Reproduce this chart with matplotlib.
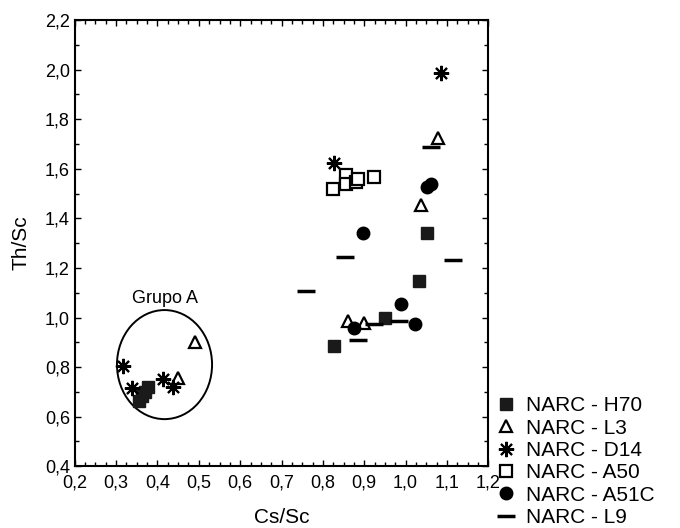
import matplotlib
matplotlib.use("Agg")
import matplotlib.pyplot as plt
from matplotlib.patches import Ellipse
from matplotlib.ticker import MultipleLocator, FuncFormatter

plt.rcParams['font.family'] = ['Liberation Sans', 'DejaVu Sans']

# dados (Cs/Sc, Th/Sc)
h70_x = [0.355, 0.362, 0.370, 0.378, 0.826, 0.950, 1.033, 1.052]
h70_y = [0.665, 0.683, 0.700, 0.718, 0.885, 1.000, 1.147, 1.340]

l3_x = [0.490, 0.450, 0.860, 0.899, 1.037, 1.079]
l3_y = [0.900, 0.755, 0.985, 0.977, 1.453, 1.724]

d14_x = [0.317, 0.338, 0.414, 0.438, 0.826, 1.086]
d14_y = [0.805, 0.715, 0.750, 0.720, 1.623, 1.986]

a50_x = [0.824, 0.855, 0.855, 0.880, 0.884, 0.923]
a50_y = [1.518, 1.575, 1.538, 1.546, 1.558, 1.566]

a51c_x = [0.875, 0.897, 0.989, 1.023, 1.052, 1.062]
a51c_y = [0.957, 1.340, 1.054, 0.973, 1.527, 1.540]

l9_x = [0.760, 0.853, 0.884, 0.923, 0.984, 1.062, 1.115]
l9_y = [1.106, 1.244, 0.909, 0.973, 0.985, 1.688, 1.232]

fig = plt.figure(figsize=(6.8, 5.28), dpi=100)
ax = fig.add_axes([0.110, 0.117, 0.608, 0.845])

ax.plot(h70_x, h70_y, 's', color='#1a1a1a', markersize=8.5, label='NARC - H70')
ax.plot(l3_x, l3_y, '^', markerfacecolor='white', markeredgecolor='black',
        markeredgewidth=1.6, markersize=8, label='NARC - L3')
ax.plot(d14_x, d14_y, marker=(8, 2, 0), linestyle='none', color='black',
        markeredgewidth=1.5, markersize=11, label='NARC - D14')
ax.plot(a50_x, a50_y, 's', markerfacecolor='white', markeredgecolor='black',
        markeredgewidth=1.6, markersize=8.5, label='NARC - A50')
ax.plot(a51c_x, a51c_y, 'o', color='black', markersize=9, label='NARC - A51C')
ax.plot(l9_x, l9_y, '_', color='black', markeredgewidth=2.5, markersize=13,
        label='NARC - L9')

# grupo A
ax.add_patch(Ellipse((0.417, 0.81), 0.23, 0.44, fill=False, lw=1.4, color='black'))
ax.text(0.418, 1.075, 'Grupo A', fontsize=13, ha='center', va='center')

ax.set_xlim(0.2, 1.2)
ax.set_ylim(0.4, 2.2)
ax.xaxis.set_major_locator(MultipleLocator(0.1))
ax.xaxis.set_minor_locator(MultipleLocator(0.025))
ax.yaxis.set_major_locator(MultipleLocator(0.2))
ax.yaxis.set_minor_locator(MultipleLocator(0.1))
fmt = FuncFormatter(lambda v, p: ('%.1f' % v).replace('.', ','))
ax.xaxis.set_major_formatter(fmt)
ax.yaxis.set_major_formatter(fmt)
ax.tick_params(which='both', direction='in', top=True, right=True, labelsize=13)
ax.tick_params(which='major', length=4, width=1)
ax.tick_params(which='minor', length=3, width=1)
ax.tick_params(axis='x', pad=6)
for s in ax.spines.values():
    s.set_linewidth(1.5)

ax.set_xlabel('Cs/Sc', fontsize=15, labelpad=12)
ax.set_ylabel('Th/Sc', fontsize=15, labelpad=10)

fig.legend(loc='lower left', bbox_to_anchor=(0.73, 0.002), frameon=False,
           fontsize=15, handlelength=0.9, handletextpad=0.5, labelspacing=0.16,
           borderaxespad=0, borderpad=0)

fig.savefig('out.png', dpi=100)
